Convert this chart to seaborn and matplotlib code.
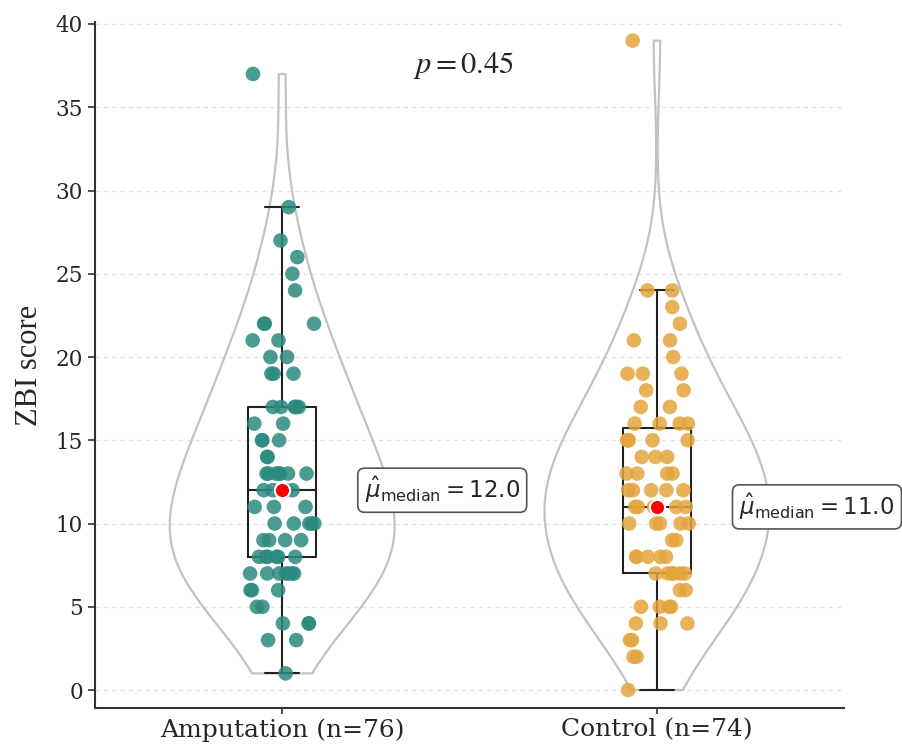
import numpy as np
import pandas as pd
import matplotlib.pyplot as plt
import seaborn as sns

# ZBI scores
groups = ['Amputation', 'Control']
amputation_scores = [1, 3, 3, 4, 4, 4, 5, 5, 6, 6, 6,
                     7, 7, 7, 7, 7, 7, 7, 8, 8, 8, 8, 8, 8,
                     9, 9, 9, 9, 10, 10, 10, 10, 10, 11, 11, 11,
                     12, 12, 12, 12, 13, 13, 13, 13, 13, 13, 13,
                     14, 14, 15, 15, 15, 16, 16, 17, 17, 17, 17, 17, 17,
                     19, 19, 19, 20, 20, 21, 21, 22, 22, 22,
                     24, 25, 26, 27, 29, 37]
control_scores = [0, 2, 2, 3, 3, 4, 4, 4, 5, 5, 5, 5, 6, 6,
                  7, 7, 7, 7, 7, 7, 8, 8, 8, 8, 8, 9, 9,
                  10, 10, 10, 10, 10, 11, 11, 11, 11, 11, 11,
                  12, 12, 12, 12, 12, 13, 13, 13, 13, 14, 14, 14,
                  15, 15, 15, 15, 15, 16, 16, 16, 16, 17, 17, 18, 18,
                  19, 19, 19, 20, 21, 21, 22, 23, 24, 24, 39]
group_colors = ['#2B8A80', '#E3A53C']
p_value = 0.45
y_ticks = [0, 5, 10, 15, 20, 25, 30, 35, 40]

df = pd.DataFrame({
    'group': ['Amputation'] * len(amputation_scores) + ['Control'] * len(control_scores),
    'score': amputation_scores + control_scores,
})
x_labels = [f'{g} (n={(df.group == g).sum()})' for g in groups]

sns.set_style('ticks')
plt.rcParams['font.family'] = ['DejaVu Serif']

fig = plt.figure(figsize=(9.03, 7.49), dpi=100)
ax = fig.add_axes([0.105, 0.0547, 0.83, 0.9155])

ax.set_axisbelow(True)
ax.yaxis.grid(True, linestyle=(0, (3, 3)), color='#E2E2E2', linewidth=1)

sns.violinplot(data=df, x='group', y='score', order=groups, fill=False, color='#C2C2C2',
               linewidth=1.6, inner=None, cut=0, density_norm='width', width=0.6,
               bw_adjust=1.2, ax=ax)
sns.boxplot(data=df, x='group', y='score', order=groups, fill=False, color='#222222',
            linewidth=1.5, width=0.18, showfliers=False, whis=1.5, ax=ax)
np.random.seed(3)
sns.stripplot(data=df, x='group', y='score', order=groups, hue='group', palette=group_colors,
              jitter=0.09, size=10.5, alpha=0.85, linewidth=0, legend=False, zorder=3, ax=ax)

# median markers and labels
for i, g in enumerate(groups):
    med = df.loc[df.group == g, 'score'].median()
    ax.scatter(i, med, s=120, color='red', edgecolor='white', linewidth=1.5, zorder=5)
    ax.text(i + 0.22, med, rf'$\hat{{\mu}}_{{\mathrm{{median}}}} = {med:.1f}$',
            ha='left', va='center', fontsize=16.5, math_fontfamily='dejavusans',
            bbox=dict(boxstyle='round,pad=0.3', fc='white', ec='#555555', lw=1.2),
            zorder=6, clip_on=False)

ax.text(0.483, 37.5, rf'$p = {p_value}$', fontsize=22, math_fontfamily='stix',
        ha='center', va='center')

ax.set_xlim(-0.5, 1.5)
ax.set_ylim(-1.08, 40.1)
ax.set_yticks(y_ticks)
ax.set_xticks([0, 1])
ax.set_xticklabels(x_labels, fontsize=18)
ax.tick_params(axis='y', labelsize=15.5, length=5, width=1.2, color='#333333')
ax.tick_params(axis='x', length=4, width=1.2, color='#333333')
ax.set_xlabel('')
ax.set_ylabel('ZBI score', fontsize=22, family='Liberation Serif', labelpad=8)
ax.spines[['top', 'right']].set_visible(False)
for s in ['left', 'bottom']:
    ax.spines[s].set_linewidth(1.5)
    ax.spines[s].set_color('#333333')

fig.savefig('out.png', dpi=100)
